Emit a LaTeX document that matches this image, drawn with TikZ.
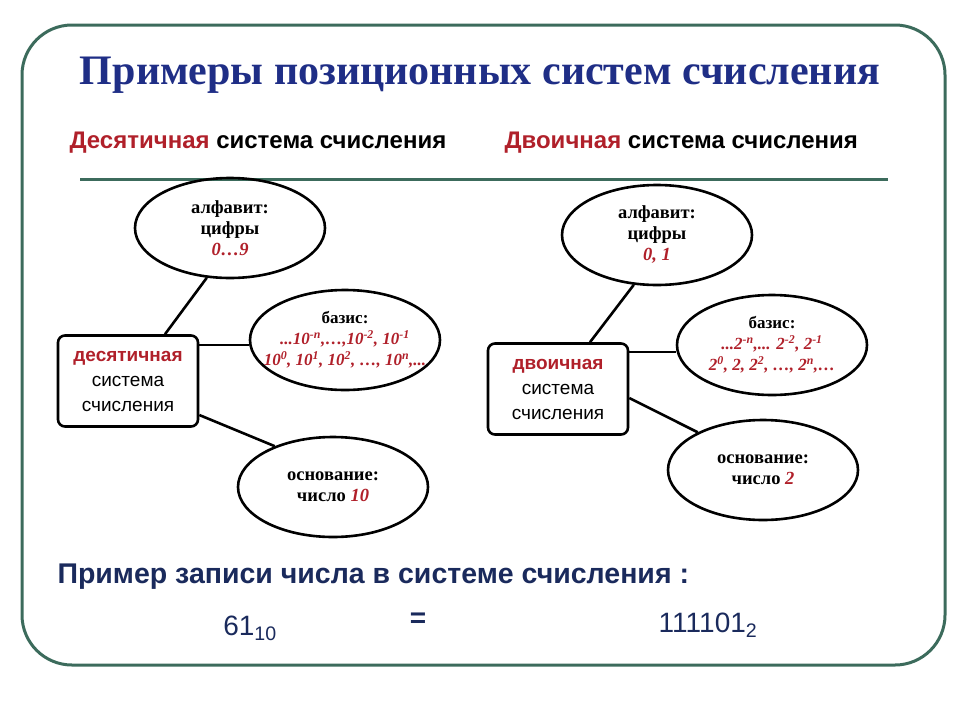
\documentclass[tikz,border=0pt]{standalone}
\usepackage{fontspec}
\setmainfont{Liberation Serif}
\newfontfamily\arial{Liberation Sans}
\usetikzlibrary{shapes.geometric}
\definecolor{frame}{HTML}{3C6B5C}
\definecolor{titleblue}{HTML}{1F2E86}
\definecolor{myred}{HTML}{B0202A}
\definecolor{navy}{HTML}{1A2A5C}
\begin{document}
\begin{tikzpicture}[x=1pt,y=-1pt,
  ell/.style={draw,line width=2.6pt,ellipse,minimum width=190pt,minimum height=100pt,inner sep=0pt,align=center,font=\bfseries\fontsize{18.5}{21}\selectfont},
  basisell/.style={ell,inner xsep=-30pt,inner ysep=-10pt,font=\bfseries\fontsize{17}{21}\selectfont},
  sysbox/.style={draw,line width=2.6pt,rounded corners=7pt,minimum width=140pt,minimum height=91pt,align=center,font=\arial\fontsize{19}{25}\selectfont},
  conn/.style={line width=2.6pt}]
\useasboundingbox (0,0) rectangle (960,720);
\draw[frame,line width=3pt,rounded corners=50pt] (22,25) rectangle (945,665);
\node[text=titleblue,font=\bfseries\fontsize{42}{46}\selectfont] (title) at (480,75) {Примеры позиционных систем счисления};
\node[anchor=west,font=\arial\bfseries\fontsize{24}{28}\selectfont] (s1) at (66,143) {\textcolor{myred}{Десятичная} система счисления};
\node[anchor=west,font=\arial\bfseries\fontsize{24}{28}\selectfont] (s2) at (501,143) {\textcolor{myred}{Двоичная} система счисления};
\coordinate (h1) at (80,179); \coordinate (h2) at (888,179);
\draw[frame,line width=3pt] (h1) -- (h2);
% left
\node[ell] (la) at (230,228) {алфавит:\\цифры\\\textcolor{myred}{\itshape 0\dots9}};
\node[basisell] (lb) at (345,340) {базис:\\\textcolor{myred}{\itshape ...10\textsuperscript{-n},\dots,10\textsuperscript{-2}, 10\textsuperscript{-1}}\\\textcolor{myred}{\itshape 10\textsuperscript{0}, 10\textsuperscript{1}, 10\textsuperscript{2}, \dots, 10\textsuperscript{n},...}};
\node[ell] (lo) at (333,487) {основание:\\число \textcolor{myred}{\itshape 10}};
\node[sysbox] (lbox) at (128,381) {\textcolor{myred}{\bfseries десятичная}\\система\\счисления};
\draw[conn] (lbox.north -| 165,0) -- (la.245);
\draw[conn] (lbox.east |- 0,345) -- (lb.west |- 0,345);
\draw[conn] (lbox.east |- 0,415) -- (lo.145);
% right
\node[ell] (ra) at (657,235) {алфавит:\\цифры\\\textcolor{myred}{\itshape 0, 1}};
\node[basisell] (rb) at (772,345) {базис:\\\textcolor{myred}{\itshape ...2\textsuperscript{-n},... 2\textsuperscript{-2}, 2\textsuperscript{-1}}\\\textcolor{myred}{\itshape 2\textsuperscript{0}, 2, 2\textsuperscript{2}, \dots, 2\textsuperscript{n},\dots}};
\node[ell] (ro) at (763,470) {основание:\\число \textcolor{myred}{\itshape 2}};
\node[sysbox] (rbox) at (558,389) {\textcolor{myred}{\bfseries двоичная}\\система\\счисления};
\draw[conn] (rbox.north -| 590,0) -- (ra.245);
\draw[conn] (rbox.east |- 0,352) -- (rb.west |- 0,352);
\draw[conn] (rbox.east |- 0,398) -- (ro.150);
% bottom
\node[anchor=west,text=navy,font=\arial\bfseries\fontsize{28.5}{32}\selectfont] (ex) at (54,577) {Пример записи числа в системе счисления :};
\node[text=navy,font=\arial\fontsize{28}{32}\selectfont] (n1) at (250,628) {61\textsubscript{10}};
\node[text=navy,font=\arial\bfseries\fontsize{28}{32}\selectfont] (eq) at (418,620) {=};
\node[text=navy,font=\arial\fontsize{28}{32}\selectfont] (n2) at (708,625) {111101\textsubscript{2}};
\end{tikzpicture}
\end{document}
